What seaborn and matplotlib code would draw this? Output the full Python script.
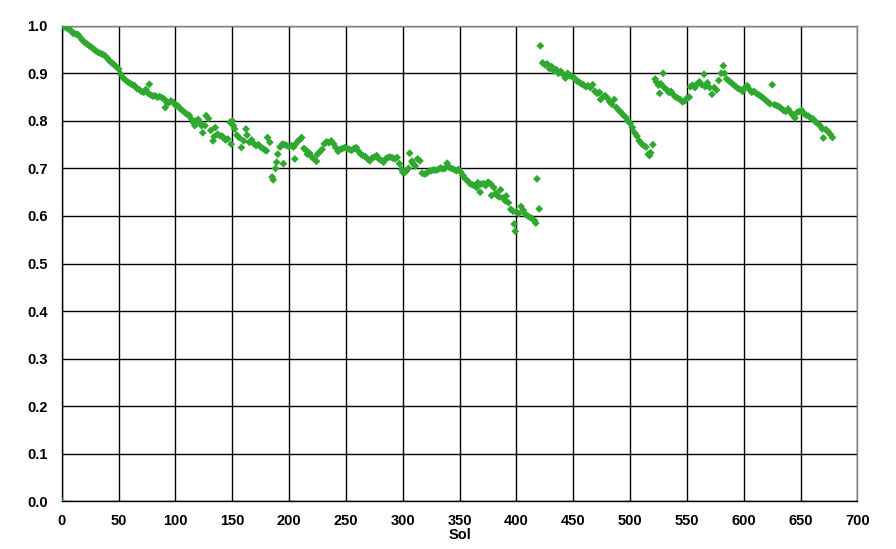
import matplotlib
matplotlib.use("Agg")
import matplotlib.pyplot as plt
import seaborn as sns
import pandas as pd

# Sol / value readings, grouped by stretch of the record
sol_a = [0, 2, 4, 6, 8, 10, 12, 14, 16, 18, 20, 22, 24, 26, 28, 30, 32, 34, 36, 38, 40, 42, 44, 46, 48, 50]
val_a = [0.0, 0.998, 0.996, 0.993, 0.99, 0.984, 0.983, 0.982, 0.976, 0.97, 0.965, 0.962, 0.958, 0.955, 0.951,
         0.947, 0.944, 0.942, 0.94, 0.937, 0.932, 0.926, 0.922, 0.918, 0.914, 0.909]

sol_b = [52, 54, 56, 58, 60, 62, 64, 66, 68, 70, 72, 74, 76, 77, 78, 80, 82, 84, 86, 88, 90, 91, 92, 94, 96, 98, 100]
val_b = [0.898, 0.89, 0.886, 0.882, 0.879, 0.876, 0.874, 0.868, 0.866, 0.862, 0.86, 0.866, 0.858, 0.877, 0.855,
         0.852, 0.853, 0.85, 0.851, 0.849, 0.846, 0.828, 0.84, 0.838, 0.842, 0.839, 0.833]

sol_c = [102, 104, 106, 108, 110, 112, 114, 116, 117, 118, 120, 122, 123, 124, 126, 127, 129, 131, 133, 134,
         135, 137, 139, 141, 142, 144, 146, 148, 149, 150, 151]
val_c = [0.832, 0.826, 0.822, 0.818, 0.814, 0.812, 0.804, 0.796, 0.79, 0.8, 0.803, 0.795, 0.79, 0.775, 0.79,
         0.811, 0.805, 0.78, 0.758, 0.767, 0.786, 0.772, 0.769, 0.768, 0.765, 0.76, 0.762, 0.797, 0.751, 0.8, 0.79]

sol_d = [152, 154, 156, 158, 160, 162, 163, 165, 167, 169, 171, 173, 175, 177, 179, 180, 181, 183, 185, 186,
         188, 189, 190, 192, 194, 195, 196, 198, 200]
val_d = [0.783, 0.77, 0.765, 0.744, 0.758, 0.783, 0.77, 0.755, 0.76, 0.752, 0.748, 0.75, 0.745, 0.742, 0.738,
         0.737, 0.765, 0.755, 0.682, 0.676, 0.7, 0.713, 0.73, 0.745, 0.751, 0.71, 0.75, 0.748, 0.746]

sol_e = [202, 204, 205, 206, 208, 210, 211, 213, 215, 216, 218, 220, 222, 224, 225, 227, 229, 231, 233, 235,
         237, 239, 241, 243, 245, 247, 249]
val_e = [0.748, 0.745, 0.72, 0.752, 0.758, 0.762, 0.765, 0.742, 0.738, 0.73, 0.732, 0.724, 0.72, 0.715, 0.73,
         0.735, 0.74, 0.752, 0.756, 0.754, 0.758, 0.752, 0.744, 0.736, 0.74, 0.742, 0.744]

sol_f = [251, 253, 255, 257, 259, 261, 263, 265, 267, 269, 271, 273, 275, 277, 279, 281, 283, 285, 287, 289,
         291, 293, 295, 297, 299, 300]
val_f = [0.742, 0.74, 0.738, 0.742, 0.744, 0.736, 0.73, 0.727, 0.725, 0.72, 0.716, 0.722, 0.724, 0.727, 0.72,
         0.717, 0.713, 0.72, 0.723, 0.724, 0.722, 0.72, 0.723, 0.71, 0.698, 0.692]

sol_g = [302, 303, 305, 306, 308, 309, 311, 313, 315, 317, 319, 321, 323, 325, 327, 329, 331, 333, 335, 337,
         339, 341, 343, 345, 347, 349, 351]
val_g = [0.692, 0.695, 0.7, 0.732, 0.715, 0.71, 0.705, 0.72, 0.716, 0.69, 0.688, 0.69, 0.694, 0.695, 0.697,
         0.696, 0.698, 0.701, 0.699, 0.7, 0.711, 0.702, 0.7, 0.698, 0.695, 0.698, 0.692]

sol_h = [353, 355, 357, 359, 361, 363, 365, 366, 368, 369, 371, 373, 375, 377, 378, 380, 382, 383, 385, 386,
         388, 390, 391, 393, 395, 397, 398, 399, 400, 402, 404, 406, 408, 410, 412, 414, 416, 417, 418, 420]
val_h = [0.685, 0.678, 0.674, 0.668, 0.666, 0.664, 0.66, 0.67, 0.65, 0.667, 0.668, 0.664, 0.671, 0.668, 0.643,
         0.66, 0.648, 0.643, 0.64, 0.655, 0.638, 0.632, 0.642, 0.628, 0.614, 0.61, 0.583, 0.568, 0.608, 0.605,
         0.62, 0.612, 0.603, 0.6, 0.597, 0.594, 0.59, 0.585, 0.678, 0.615]

sol_i = [421, 423, 425, 427, 429, 431, 433, 435, 437, 439, 441, 443, 445, 447, 449, 451, 453, 455, 457, 459,
         461, 463, 465, 467, 469, 471, 473, 474, 476, 478, 480, 482, 484, 486, 488, 490, 492, 494, 496, 498,
         500, 502, 504, 506, 508, 510, 512, 514, 516, 517, 518, 520]
val_i = [0.958, 0.922, 0.918, 0.92, 0.91, 0.914, 0.905, 0.908, 0.9, 0.904, 0.898, 0.89, 0.9, 0.895, 0.893,
         0.89, 0.884, 0.882, 0.878, 0.876, 0.872, 0.874, 0.87, 0.876, 0.862, 0.858, 0.86, 0.845, 0.85, 0.853,
         0.848, 0.84, 0.835, 0.845, 0.828, 0.822, 0.818, 0.812, 0.808, 0.8, 0.795, 0.786, 0.775, 0.768, 0.758,
         0.752, 0.748, 0.745, 0.73, 0.727, 0.733, 0.75]

sol_j = [522, 523, 525, 526, 527, 529, 530, 532, 534, 536, 538, 540, 542, 544, 546, 548, 550, 552, 553, 555,
         557, 559, 561, 563, 565, 566, 568, 570, 572, 574, 576, 578, 580, 582, 583, 585, 587, 589, 591, 593,
         595, 597, 599, 601, 603, 605, 607, 609, 611, 613, 615, 617, 619, 621, 623, 625, 627, 629, 631, 633,
         635, 637, 639, 641, 643, 645, 647, 649, 651, 653, 655, 657, 659, 661, 663, 665, 667, 669, 670, 672,
         674, 676, 678]
val_j = [0.888, 0.882, 0.875, 0.858, 0.878, 0.9, 0.87, 0.866, 0.86, 0.862, 0.855, 0.85, 0.848, 0.845, 0.84,
         0.842, 0.848, 0.85, 0.872, 0.875, 0.87, 0.878, 0.882, 0.876, 0.898, 0.872, 0.88, 0.87, 0.856, 0.87,
         0.865, 0.885, 0.9, 0.916, 0.9, 0.888, 0.884, 0.88, 0.876, 0.872, 0.868, 0.866, 0.862, 0.87, 0.874,
         0.866, 0.86, 0.862, 0.858, 0.855, 0.852, 0.848, 0.844, 0.84, 0.836, 0.876, 0.834, 0.832, 0.83, 0.826,
         0.822, 0.82, 0.825, 0.818, 0.812, 0.806, 0.818, 0.82, 0.822, 0.815, 0.812, 0.81, 0.806, 0.804, 0.798,
         0.795, 0.79, 0.783, 0.764, 0.782, 0.778, 0.772, 0.765]

x_ticks = [0, 50, 100, 150, 200, 250, 300, 350, 400, 450, 500, 550, 600, 650, 700]
y_ticks = [0.0, 0.1, 0.2, 0.3, 0.4, 0.5, 0.6, 0.7, 0.8, 0.9, 1.0]

sols = sol_a + sol_b + sol_c + sol_d + sol_e + sol_f + sol_g + sol_h + sol_i + sol_j
vals = val_a + val_b + val_c + val_d + val_e + val_f + val_g + val_h + val_i + val_j
df = pd.DataFrame({"Sol": sols, "value": vals})

sns.set_style("white")
plt.rcParams["font.family"] = ["Liberation Sans", "DejaVu Sans"]
plt.rcParams["text.color"] = "black"
plt.rcParams["xtick.color"] = "black"
plt.rcParams["ytick.color"] = "black"
plt.rcParams["axes.labelcolor"] = "black"

fig, ax = plt.subplots(figsize=(8.96, 5.49), dpi=100)
fig.subplots_adjust(left=0.069, right=0.957, top=0.953, bottom=0.087)

sns.scatterplot(data=df, x="Sol", y="value", marker="D", s=16, color="#2fa82f",
                edgecolor="none", linewidth=0, ax=ax, zorder=3)

ax.set_xlim(0, 700)
ax.set_ylim(0, 1.0)
ax.set_xticks(x_ticks)
ax.set_yticks(y_ticks)
ax.set_xticklabels([str(t) for t in x_ticks], fontweight="bold", fontsize=10.5)
ax.set_yticklabels([f"{t:.1f}" for t in y_ticks], fontweight="bold", fontsize=10.5)
ax.grid(True, color="black", linewidth=1.0)
ax.set_axisbelow(True)
ax.tick_params(axis="both", direction="out", length=4, width=1, color="black")
ax.tick_params(axis="x", pad=5)
ax.tick_params(axis="y", pad=6)

for side in ["left", "bottom"]:
    ax.spines[side].set_color("black")
    ax.spines[side].set_linewidth(1.0)
for side in ["top", "right"]:
    ax.spines[side].set_color("#808080")
    ax.spines[side].set_linewidth(1.0)

ax.set_xlabel("Sol", fontweight="bold", fontsize=10.5, labelpad=0)
ax.set_ylabel("")

fig.savefig("out.png", dpi=100)
